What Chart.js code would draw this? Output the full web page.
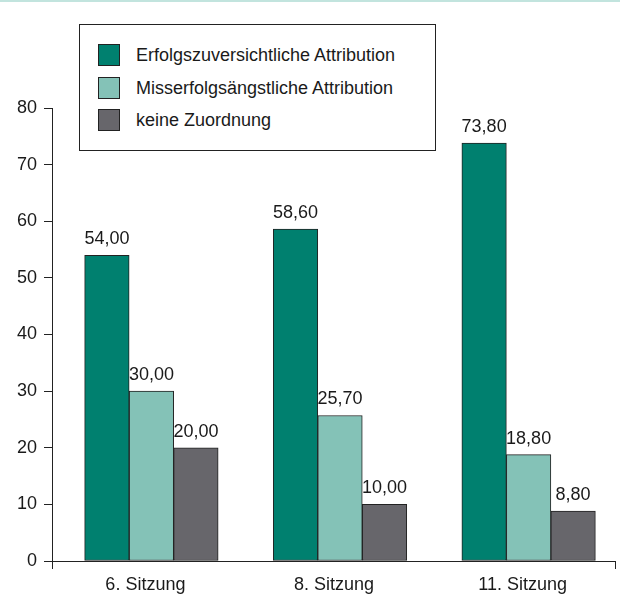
<!DOCTYPE html>
<html>
<head>
<meta charset="utf-8">
<script src="https://cdn.jsdelivr.net/npm/chart.js@4"></script>
<style>
  html, body { margin: 0; padding: 0; background: #fff; }
  body { width: 620px; height: 597px; overflow: hidden; position: relative; border-top: 2px solid #c2e4de; box-sizing: border-box; }
  #wrap { position: absolute; left: 0; top: 0; width: 620px; height: 597px; }
  #legend {
    position: absolute; left: 79px; top: 22px; width: 357px; height: 127px; box-sizing: border-box;
    border: 1px solid #222; background: #fff;
    font-family: "Liberation Sans", Arial, sans-serif; font-size: 18px; color: #1a1a1a;
  }
  .item { position: absolute; left: 18px; height: 22px; line-height: 22px; white-space: nowrap; }
  .item span.sw { position: absolute; left: 0; top: 0; width: 20px; height: 20px; border: 1px solid #222; }
  .item span.tx { position: absolute; left: 38px; top: 0; }
</style>
</head>
<body>
<div id="wrap"><canvas id="chart" width="620" height="597"></canvas></div>
<div id="legend"></div>
<script>
// Categories and values
const categories = ['6. Sitzung', '8. Sitzung', '11. Sitzung'];
const seriesNames = ['Erfolgszuversichtliche Attribution', 'Misserfolgsängstliche Attribution', 'keine Zuordnung'];
const erfolg = [54.0, 58.6, 73.8];
const misserfolg = [30.0, 25.7, 18.8];
const keine = [20.0, 10.0, 8.8];
const yTicks = [0, 10, 20, 30, 40, 50, 60, 70, 80];
const colors = ['#00806f', '#84c2b7', '#67666b'];

const FONT = '"Liberation Sans", Arial, sans-serif';

// build point lists for a linear index axis
function pts(values) {
    return values.map((v, i) => ({ x: i, y: v }));
}

// Legend (HTML)
const legendEl = document.getElementById('legend');
legendEl.innerHTML = seriesNames.map((name, i) => `
    <div class="item" style="top:${19 + i * 32.5}px">
        <span class="sw" style="background:${colors[i]}"></span>
        <span class="tx">${name}</span>
    </div>
`).join('');

// Value labels above bars
const valueLabels = {
    id: 'valueLabels',
    afterDatasetsDraw(chart) {
        const ctx = chart.ctx;
        ctx.save();
        ctx.font = '18px ' + FONT;
        ctx.fillStyle = '#1a1a1a';
        ctx.textAlign = 'center';
        ctx.textBaseline = 'alphabetic';
        chart.data.datasets.forEach((ds, di) => {
            chart.getDatasetMeta(di).data.forEach((bar, i) => {
                const txt = ds.data[i].y.toFixed(2).replace('.', ',');
                ctx.fillText(txt, bar.x, bar.y - 11);
            });
        });
        ctx.restore();
    }
};

const ctx = document.getElementById('chart').getContext('2d');
new Chart(ctx, {
    type: 'bar',
    data: {
        datasets: [
            { label: seriesNames[0], data: pts(erfolg), backgroundColor: colors[0] },
            { label: seriesNames[1], data: pts(misserfolg), backgroundColor: colors[1] },
            { label: seriesNames[2], data: pts(keine), backgroundColor: colors[2] },
        ],
    },
    options: {
        responsive: false,
        animation: false,
        events: [],
        layout: { padding: { top: 106, right: 3, left: 0, bottom: 0 } },
        datasets: {
            bar: { barThickness: 44.5, borderWidth: 1, borderColor: '#222', borderSkipped: false },
        },
        plugins: { legend: { display: false }, tooltip: { enabled: false } },
        scales: {
            x: {
                type: 'linear',
                offset: false,
                min: -0.527,
                max: 2.458,
                afterFit: (s) => { s.height = 38; },
                border: { color: '#222', width: 1 },
                grid: {
                    offset: false,
                    drawOnChartArea: false,
                    tickLength: 8,
                    color: (c) => (c.tick && Number.isInteger(c.tick.value) ? 'rgba(0,0,0,0)' : '#222'),
                },
                ticks: {
                    stepSize: 1,
                    includeBounds: true,
                    autoSkip: false,
                    maxRotation: 0,
                    labelOffset: -6,
                    padding: 5,
                    color: '#1a1a1a',
                    font: { family: FONT, size: 18 },
                    callback: (v) => (Number.isInteger(v) ? categories[v] : ''),
                },
            },
            y: {
                min: 0,
                max: 80,
                afterFit: (s) => { s.width = 52; },
                border: { color: '#222', width: 1 },
                grid: { drawOnChartArea: false, tickLength: 8, color: '#222' },
                afterBuildTicks: (s) => { s.ticks = yTicks.map((v) => ({ value: v })); },
                ticks: {
                    padding: 7,
                    color: '#1a1a1a',
                    font: { family: FONT, size: 18 },
                },
            },
        },
    },
    plugins: [valueLabels],
});
</script>
</body>
</html>
